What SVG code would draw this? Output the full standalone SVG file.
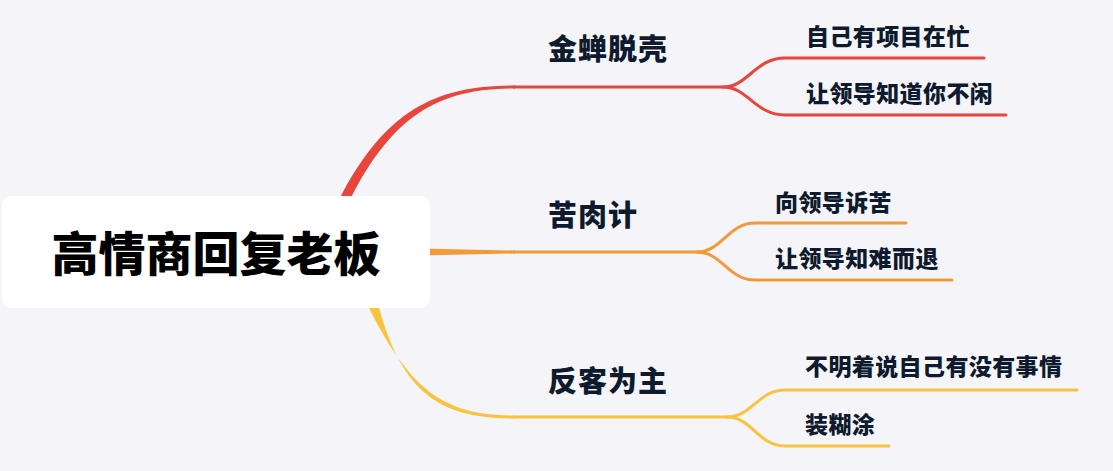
<svg xmlns="http://www.w3.org/2000/svg" width="1113" height="471" viewBox="0 0 1113 471">
<style>
.t{font-family:"Noto Sans CJK SC","Noto Sans",sans-serif;font-weight:900;fill:#0e1a2d}
.b{font-size:29px}
.s{font-size:23px}
.ln{fill:none;stroke-width:3;stroke-linecap:round}
.red{stroke:#e8453c}.org{stroke:#f39a38}.yel{stroke:#f8c43e}
</style>
<rect width="1113" height="471" fill="#f5f5f9"/>
<g id="connectors">
<path d="M339 200 C386 108 438 85.5 515 85.5 L515 88.5 C442 88.5 394 112 350 200 Z" fill="#e8453c"/>
<path d="M420 248.5 L515 250.5 L515 253.5 L420 255.5 Z" fill="#f39a38"/>
<path d="M365 300 C410 392 444 415.5 515 415.5 L515 418.5 C440 418.5 401 394 377 300 Z" fill="#f8c43e"/>
<path class="ln red" d="M514 87 H723 C748 87 755 58 785 58 H984"/>
<path class="ln red" d="M723 87 C748 87 755 115 785 115 H1006"/>
<path class="ln org" d="M514 252 H697 C722 252 728 223 755 223 H906"/>
<path class="ln org" d="M697 252 C722 252 728 280 755 280 H952"/>
<path class="ln yel" d="M514 417 H727 C752 417 758 390 785 390 H1077"/>
<path class="ln yel" d="M727 417 C752 417 758 446 785 446 H889"/>
</g>
<g id="root">
<rect x="2" y="196" width="428" height="112" rx="9" fill="#ffffff"/>
<text x="216" y="271" text-anchor="middle" style="font-family:'Noto Sans CJK SC',sans-serif;font-weight:900;font-size:47px" fill="#000">高情商回复老板</text>
</g>
<g id="n1"><text class="t b" x="548" y="60" letter-spacing="1">金蝉脱壳</text></g>
<g id="n1a"><text class="t s" x="806" y="45" letter-spacing="0.4">自己有项目在忙</text></g>
<g id="n1b"><text class="t s" x="806" y="102" letter-spacing="0.4">让领导知道你不闲</text></g>
<g id="n2"><text class="t b" x="548" y="226" letter-spacing="1">苦肉计</text></g>
<g id="n2a"><text class="t s" x="775" y="211" letter-spacing="0.4">向领导诉苦</text></g>
<g id="n2b"><text class="t s" x="775" y="267" letter-spacing="0.4">让领导知难而退</text></g>
<g id="n3"><text class="t b" x="548" y="392" letter-spacing="1">反客为主</text></g>
<g id="n3a"><text class="t s" x="805" y="375" letter-spacing="0.4">不明着说自己有没有事情</text></g>
<g id="n3b"><text class="t s" x="805" y="433" letter-spacing="0.4">装糊涂</text></g>
</svg>
